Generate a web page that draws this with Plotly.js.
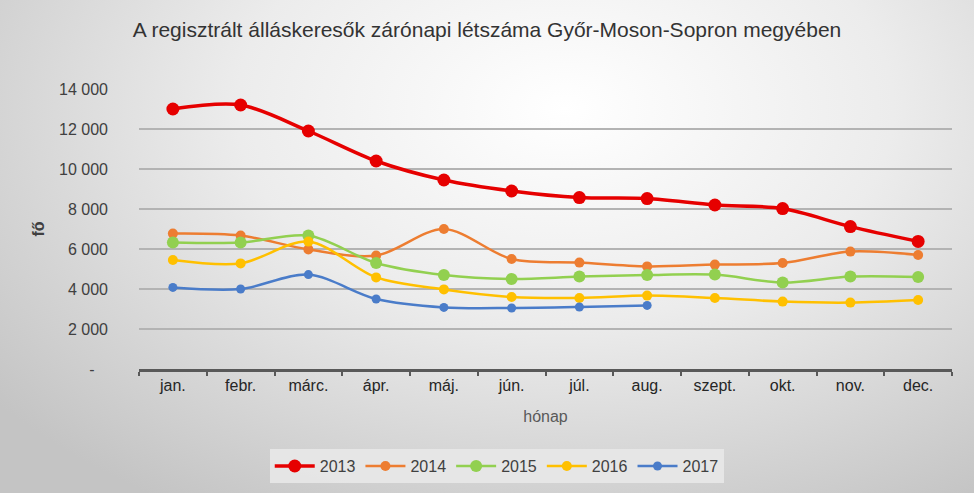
<!DOCTYPE html>
<html>
<head>
<meta charset="utf-8">
<script src="https://cdn.plot.ly/plotly-3.0.1.min.js"></script>
<style>
html,body{margin:0;padding:0;}
body{width:974px;height:493px;overflow:hidden;
background:radial-gradient(ellipse 75% 95% at 58% 22%, #ffffff 0%, #ececec 45%, #c4c4c4 100%);}
#chart{width:974px;height:493px;}
</style>
</head>
<body>
<div id="chart"></div>
<script>
const months = ["jan.","febr.","márc.","ápr.","máj.","jún.","júl.","aug.","szept.","okt.","nov.","dec."];
const y2013 = [13000,13200,11900,10400,9450,8900,8570,8520,8200,8020,7120,6380];
const y2014 = [6770,6670,5980,5670,7000,5500,5320,5130,5220,5300,5870,5700];
const y2015 = [6330,6320,6670,5300,4700,4500,4620,4700,4720,4320,4620,4600];
const y2016 = [5450,5280,6370,4580,3980,3600,3550,3670,3550,3370,3320,3450];
const y2017 = [4080,4000,4720,3500,3080,3050,3100,3180];
const yTickVals = [0,2000,4000,6000,8000,10000,12000,14000];
const yTickText = ["-\u00a0\u00a0\u00a0","2 000","4 000","6 000","8 000","10 000","12 000","14 000"];

function tr(name, y, color, lw, ms){
  return {x: months.slice(0, y.length), y: y, name: name, type: 'scatter', mode: 'lines+markers',
    line: {color: color, width: lw, shape: 'spline', smoothing: 0.9},
    marker: {color: color, size: ms}};
}
const data = [
  tr('2013', y2013, '#e60000', 3.5, 13),
  tr('2014', y2014, '#ed7d31', 2.5, 10),
  tr('2015', y2015, '#92d050', 2.5, 12),
  tr('2016', y2016, '#ffc000', 2.5, 10),
  tr('2017', y2017, '#4a7cc9', 2.5, 9)
];
const layout = {
  width: 974, height: 493,
  paper_bgcolor: 'rgba(0,0,0,0)', plot_bgcolor: 'rgba(0,0,0,0)',
  margin: {l: 139, r: 22, t: 89, b: 124},
  font: {family: 'Liberation Sans, Arial, sans-serif', color: '#404040', size: 16},
  title: {text: 'A regisztrált álláskeresők zárónapi létszáma Győr-Moson-Sopron megyében',
    font: {size: 21, color: '#333333'}, x: 0.5, xanchor: 'center', y: 0.94, yref: 'container', yanchor: 'middle'},
  xaxis: {type: 'category', range: [-0.5, 11.5], tickson: 'boundaries', ticks: 'outside', ticklen: 4,
    tickcolor: '#595959', tickwidth: 2, showline: true, linecolor: '#595959', linewidth: 3,
    showgrid: false, tickfont: {size: 16, color: '#262626'},
    title: {text: 'hónap', font: {size: 16, color: '#595959'}, standoff: 18}},
  yaxis: {range: [0, 14000], tickvals: yTickVals, ticktext: yTickText, showgrid: true,
    gridcolor: '#b3b3b3', gridwidth: 1.3, zeroline: false, showline: false,
    ticklabelstandoff: 30, tickfont: {size: 16, color: '#404040'},
    title: {text: '<b>fő</b>', font: {size: 16, color: '#404040'}, standoff: 10}},
  showlegend: true,
  legend: {orientation: 'h', xref: 'container', yref: 'container', x: 0.51, xanchor: 'center',
    y: 0.089, yanchor: 'top', bgcolor: 'rgba(232,232,232,0.9)', font: {size: 16, color: '#404040'},
    itemwidth: 40, traceorder: 'normal'}
};
Plotly.newPlot('chart', data, layout, {displayModeBar: false, staticPlot: true});
</script>
</body>
</html>
